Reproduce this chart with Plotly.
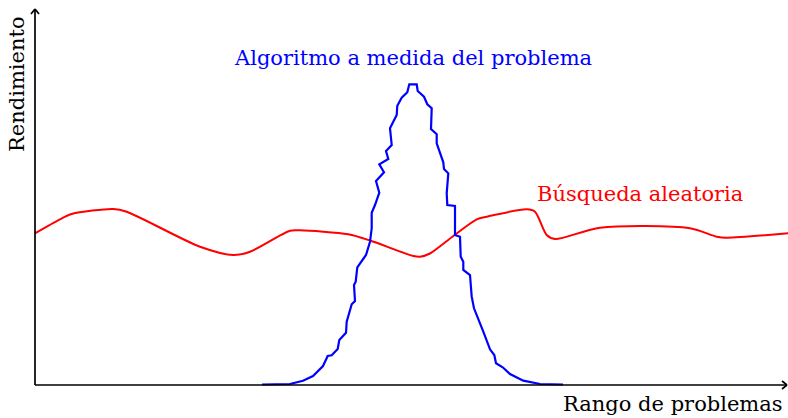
import plotly.graph_objects as go

# Chart units: x = position along the problem range, y = performance (both)
random_x = [0, 25, 36.7, 78.3, 91.7, 165, 198.3, 215, 255, 265, 313.3, 335, 378.3, 385, 395,
            418.3, 441.7, 451.7, 491.7, 500, 511.7, 520, 565, 655, 681.7, 691.7, 753]
random_y = [151.7, 165.7, 171, 176, 173.3, 138.3, 130, 133.3, 154.3, 154.7, 150.7, 144.5, 129, 128.3, 131.5,
            149, 165.7, 168.3, 175.7, 173.3, 150, 146, 157.3, 156.7, 148.3, 147.3, 151.7]

tailored_x = [227, 255, 268, 278, 288, 292.7, 296.7, 302.7, 304.3, 311,
              311.7, 315, 316.7, 320, 319, 320.7, 322.3, 331, 335, 336.7,
              336.7, 340, 344.3, 341, 349, 344.3, 353.3, 351, 356.7, 355,
              361.7, 362.3, 366.7, 372.3, 374.3, 381.7, 382.7, 389, 392.3, 396.7,
              396, 401.7, 401.7, 408.3, 409, 413.3, 411.7, 412.3, 420, 420,
              425, 425.7, 428.3, 428.3, 435, 436.7, 439, 448.3, 455, 459.3,
              461, 467.7, 475, 488.3, 505, 528]
tailored_y = [0.5, 1, 4.3, 9, 19, 29, 29.7, 36, 45, 52.3,
              63.3, 76.7, 80.7, 84, 100, 103.3, 117.7, 130, 143.3, 156.7,
              172.3, 180, 192.3, 204, 212.7, 220.7, 226, 234, 240, 256.7,
              270, 279.3, 287.3, 292.7, 300.7, 300.7, 294, 288.3, 280.7, 276.7,
              256, 250.7, 241.7, 222.7, 216, 211.7, 191.7, 180, 179, 150,
              148.3, 128.3, 123.3, 115, 110, 88.3, 76.7, 53.3, 35.7, 30,
              21.7, 17.7, 11, 4.3, 1, 0.5]

x_label = "Rango de problemas"
y_label = "Rendimiento"
tailored_label = "Algoritmo a medida del problema"
random_label = "Búsqueda aleatoria"

FONT = "DejaVu Serif"
FSIZE = 21

fig = go.Figure()
fig.add_trace(go.Scatter(x=random_x, y=random_y, mode="lines",
                         line=dict(color="#ff0000", width=2.0, shape="spline", smoothing=0.8),
                         hoverinfo="skip"))
fig.add_trace(go.Scatter(x=tailored_x, y=tailored_y, mode="lines",
                         line=dict(color="#0000ff", width=2.2),
                         hoverinfo="skip"))

ax_style = dict(color="black", width=1.7)
shapes = [
    dict(type="line", xref="x", yref="y", x0=0, y0=0, x1=752, y1=0, line=ax_style),
    dict(type="line", xref="x", yref="y", x0=0, y0=0, x1=0, y1=376, line=ax_style),
    # arrow heads
    dict(type="line", xref="x", yref="y", x0=747, y0=4, x1=752, y1=0, line=ax_style),
    dict(type="line", xref="x", yref="y", x0=747, y0=-4, x1=752, y1=0, line=ax_style),
    dict(type="line", xref="x", yref="y", x0=-4, y0=371, x1=0, y1=376, line=ax_style),
    dict(type="line", xref="x", yref="y", x0=4, y0=371, x1=0, y1=376, line=ax_style),
]

annotations = [
    dict(x=378, y=327, xref="x", yref="y", text=tailored_label, showarrow=False,
         font=dict(family=FONT, size=FSIZE, color="#0000ff"), xanchor="center", yanchor="middle"),
    dict(x=605, y=191, xref="x", yref="y", text=random_label, showarrow=False,
         font=dict(family=FONT, size=FSIZE, color="#ff0000"), xanchor="center", yanchor="middle"),
    dict(x=750, y=-19, xref="x", yref="y", text=x_label, showarrow=False,
         font=dict(family=FONT, size=FSIZE, color="black"), xanchor="right", yanchor="middle"),
    dict(x=-18, y=301, xref="x", yref="y", text=y_label, showarrow=False, textangle=-90,
         font=dict(family=FONT, size=FSIZE, color="black"), xanchor="center", yanchor="middle"),
]

fig.update_layout(
    width=788, height=418,
    margin=dict(l=0, r=0, t=0, b=0),
    paper_bgcolor="white", plot_bgcolor="white",
    showlegend=False,
    xaxis=dict(range=[-35, 753], visible=False, fixedrange=True),
    yaxis=dict(range=[-33, 385], visible=False, fixedrange=True),
    shapes=shapes,
    annotations=annotations,
)

fig.write_html("out.html", config={"displayModeBar": False},
               post_script="document.body.style.margin='0';document.body.style.overflow='hidden';")
